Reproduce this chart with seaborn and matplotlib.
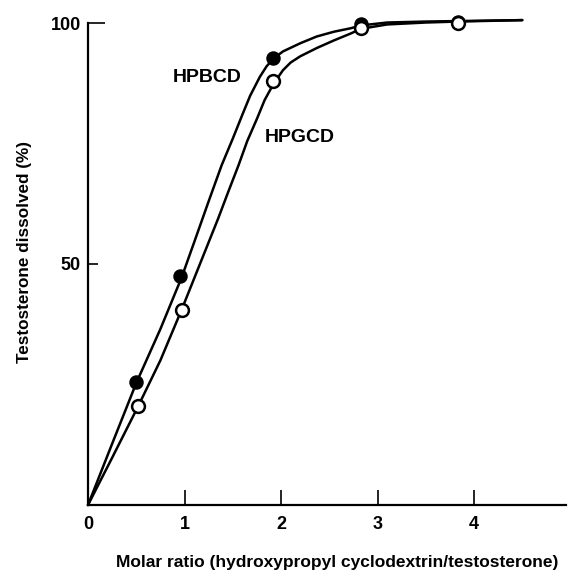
import matplotlib
matplotlib.use("Agg")
import matplotlib.pyplot as plt
import seaborn as sns
import pandas as pd

# Measured data points
ratio_b = [0.5, 0.95, 1.92, 2.83, 3.83]
dissolved_b = [25.5, 47.5, 92.7, 99.8, 100.3]   # HPBCD (filled)
ratio_g = [0.52, 0.97, 1.92, 2.83, 3.83]
dissolved_g = [20.5, 40.5, 88.0, 98.9, 100.0]   # HPGCD (open)

# Fitted curves
curve_x_b = [0.0, 0.25, 0.5, 0.75, 0.97, 1.1, 1.25, 1.385, 1.5, 1.6, 1.68, 1.78, 1.85,
             1.92, 2.02, 2.2, 2.37, 2.55, 2.72, 2.83, 3.1, 3.5, 3.83, 4.5]
curve_y_b = [0.0, 12.7, 25.3, 36.5, 47.2, 54.5, 63.0, 70.5, 76.0, 81.0, 84.9, 88.8, 91.0,
             92.6, 94.1, 95.8, 97.2, 98.2, 98.9, 99.5, 100.1, 100.3, 100.4, 100.6]
curve_x_g = [0.0, 0.25, 0.52, 0.75, 0.97, 1.15, 1.35, 1.45, 1.56, 1.65, 1.75, 1.83, 1.92,
             2.02, 2.1, 2.2, 2.37, 2.55, 2.72, 2.83, 3.1, 3.5, 3.83, 4.5]
curve_y_g = [0.0, 9.8, 20.5, 30.0, 40.5, 49.5, 59.5, 64.8, 70.5, 75.5, 80.1, 84.0, 87.3,
             90.2, 91.8, 93.1, 94.8, 96.4, 97.8, 98.8, 99.7, 100.1, 100.3, 100.6]

x_ticks = [0, 1, 2, 3, 4]
y_ticks = [50, 100]
labels = ["HPBCD", "HPGCD"]

sns.set_theme(style="ticks")
plt.rcParams["font.family"] = ["Liberation Sans", "DejaVu Sans"]
plt.rcParams["font.weight"] = "bold"
for k in ["text.color", "axes.labelcolor", "xtick.color", "ytick.color", "axes.edgecolor"]:
    plt.rcParams[k] = "black"

fig = plt.figure(figsize=(5.72, 5.73), dpi=100)
ax = fig.add_axes([88 / 572, (573 - 505) / 573, 477.7 / 572, (505 - 23) / 573])

df_cb = pd.DataFrame({"x": curve_x_b, "y": curve_y_b})
df_cg = pd.DataFrame({"x": curve_x_g, "y": curve_y_g})
df_b = pd.DataFrame({"x": ratio_b, "y": dissolved_b})
df_g = pd.DataFrame({"x": ratio_g, "y": dissolved_g})

sns.lineplot(data=df_cb, x="x", y="y", ax=ax, color="black", lw=1.8,
             sort=False, estimator=None, clip_on=False)
sns.lineplot(data=df_cg, x="x", y="y", ax=ax, color="black", lw=1.8,
             sort=False, estimator=None, clip_on=False)
sns.scatterplot(data=df_b, x="x", y="y", ax=ax, color="black", s=85,
                edgecolor="black", linewidth=1.2, zorder=5, clip_on=False)
sns.scatterplot(data=df_g, x="x", y="y", ax=ax, color="white", s=85,
                edgecolor="black", linewidth=1.8, zorder=6, clip_on=False)

ax.set_xlim(0, 4.95)
ax.set_ylim(0, 100)
ax.set_xticks(x_ticks)
ax.set_xticklabels([str(t) for t in x_ticks])
ax.set_yticks(y_ticks)
ax.set_yticklabels([str(t) for t in y_ticks])
ax.tick_params(axis="both", direction="in", labelsize=13, width=1.2, colors="black")
ax.tick_params(axis="x", length=11, pad=8)
ax.tick_params(axis="y", length=7, pad=5)
ax.yaxis.get_major_ticks()[1].tick1line.set_markersize(12)
for lab in ax.get_xticklabels() + ax.get_yticklabels():
    lab.set_fontweight("bold")

sns.despine(ax=ax)
for s in ["left", "bottom"]:
    ax.spines[s].set_linewidth(1.6)
    ax.spines[s].set_color("black")

ax.set_xlabel("")
ax.set_ylabel("")
fig.text(337 / 572, 1 - 562 / 573, "Molar ratio (hydroxypropyl cyclodextrin/testosterone)",
         ha="center", va="center", fontsize=12.5, fontweight="bold")
fig.text(25 / 572, 1 - 252 / 573, "Testosterone dissolved (%)", rotation=90,
         ha="center", va="center", fontsize=12.3, fontweight="bold")

ax.text(1.24, 88.7, labels[0], ha="center", va="center", fontsize=14, fontweight="bold")
ax.text(2.19, 76.2, labels[1], ha="center", va="center", fontsize=14, fontweight="bold")

fig.savefig("out.png", dpi=100)
